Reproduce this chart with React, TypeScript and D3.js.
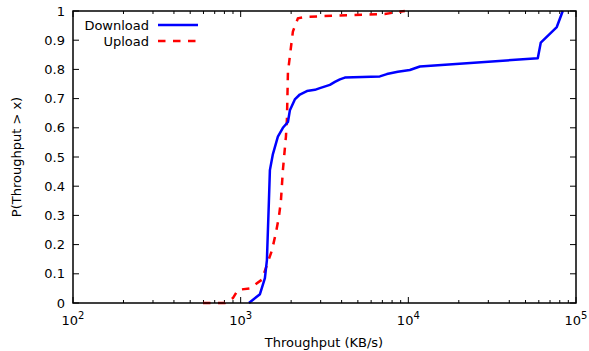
import React from "react";
import * as d3 from "d3";

// throughput (KB/s) vs P(Throughput > x)
const downloadX = [1120, 1303, 1395, 1434, 1474, 1494, 1557, 1667, 1786, 1914, 1966, 2104, 2254, 2483, 2772, 2966, 3404, 3648, 3908, 4181, 6761, 7446, 8653, 10210, 11720, 59160, 61660, 76800, 83380];
const downloadP = [0, 0.03, 0.085, 0.147, 0.35, 0.455, 0.51, 0.57, 0.6, 0.62, 0.66, 0.697, 0.714, 0.726, 0.73, 0.736, 0.747, 0.757, 0.766, 0.772, 0.776, 0.784, 0.792, 0.798, 0.81, 0.838, 0.892, 0.945, 1];

const uploadX = [596, 806, 899, 963, 1136, 1339, 1433, 1536, 1622, 1691, 1738, 1786, 1862, 1888, 1914, 1994, 2049, 2195, 2415, 7244, 9530];
const uploadP = [0, 0, 0.017, 0.045, 0.05, 0.08, 0.13, 0.18, 0.24, 0.295, 0.35, 0.455, 0.57, 0.63, 0.79, 0.875, 0.93, 0.975, 0.98, 0.99, 1];

const yTicks = [0, 0.1, 0.2, 0.3, 0.4, 0.5, 0.6, 0.7, 0.8, 0.9, 1];
const yTickLabels = ["0", "0.1", "0.2", "0.3", "0.4", "0.5", "0.6", "0.7", "0.8", "0.9", "1"];
const xDecades = [2, 3, 4, 5];

const W = 589;
const H = 351;
const left = 73, right = 576, top = 11, bottom = 303;
const font = "DejaVu Sans, sans-serif";
const fs = 13;

export default function App() {
  const x = d3.scaleLog().domain([100, 100000]).range([left, right]);
  const y = d3.scaleLinear().domain([0, 1]).range([bottom, top]);

  const line = d3
    .line<[number, number]>()
    .x((d) => x(d[0]))
    .y((d) => y(d[1]));

  const down = downloadX.map((v, i) => [v, downloadP[i]] as [number, number]);
  const up = uploadX.map((v, i) => [v, uploadP[i]] as [number, number]);

  // minor ticks 2..9 in each decade
  const minor: number[] = [];
  for (let e = 2; e < 5; e++) {
    for (let m = 2; m <= 9; m++) minor.push(m * Math.pow(10, e));
  }

  return (
    <div style={{ position: "absolute", left: 0, top: 0 }}>
      <svg width={W} height={H} style={{ display: "block", background: "#fff" }} fontFamily={font}>
        <defs>
          <clipPath id="plot">
            <rect x={left} y={top - 2} width={right - left} height={bottom - top + 4} />
          </clipPath>
        </defs>

        {/* y ticks, left and right */}
        {yTicks.map((t, i) => (
          <g key={"y" + i}>
            <line x1={left} x2={left + 6} y1={y(t)} y2={y(t)} stroke="#000" strokeWidth={1} />
            <line x1={right} x2={right - 6} y1={y(t)} y2={y(t)} stroke="#000" strokeWidth={1} />
            <text x={65} y={y(t)} dy="0.35em" textAnchor="end" fontSize={fs} fill="#000">
              {yTickLabels[i]}
            </text>
          </g>
        ))}

        {/* x ticks, bottom and top */}
        {xDecades.map((e) => {
          const px = x(Math.pow(10, e));
          return (
            <g key={"x" + e}>
              <line x1={px} x2={px} y1={bottom} y2={bottom - 6} stroke="#000" strokeWidth={1} />
              <line x1={px} x2={px} y1={top} y2={top + 6} stroke="#000" strokeWidth={1} />
              <text x={px} y={325} textAnchor="middle" fontSize={fs} fill="#000">
                10<tspan fontSize={10} dy={-6}>{e}</tspan>
              </text>
            </g>
          );
        })}
        {minor.map((v, i) => (
          <g key={"m" + i}>
            <line x1={x(v)} x2={x(v)} y1={bottom} y2={bottom - 3} stroke="#000" strokeWidth={1} />
            <line x1={x(v)} x2={x(v)} y1={top} y2={top + 3} stroke="#000" strokeWidth={1} />
          </g>
        ))}

        {/* curves */}
        <g clipPath="url(#plot)">
          <path d={line(up) || ""} fill="none" stroke="#ff0000" strokeWidth={2.5} strokeDasharray="7.5,7.5" />
          <path d={line(down) || ""} fill="none" stroke="#0000ff" strokeWidth={2.5} strokeLinejoin="round" />
        </g>

        {/* frame */}
        <rect x={left} y={top} width={right - left} height={bottom - top} fill="none" stroke="#000" strokeWidth={1.5} />

        {/* legend */}
        <text x={149} y={25} dy="0.35em" textAnchor="end" fontSize={fs} fill="#000">Download</text>
        <line x1={158} x2={198} y1={25} y2={25} stroke="#0000ff" strokeWidth={2.5} />
        <text x={149} y={41} dy="0.35em" textAnchor="end" fontSize={fs} fill="#000">Upload</text>
        <line x1={158} x2={198} y1={41} y2={41} stroke="#ff0000" strokeWidth={2.5} strokeDasharray="7.5,7.5" />

        {/* axis titles */}
        <text x={324} y={347} textAnchor="middle" fontSize={fs} fill="#000">Throughput (KB/s)</text>
        <text transform={`translate(21,${(top + bottom) / 2}) rotate(-90)`} textAnchor="middle" fontSize={fs} fill="#000">
          P(Throughput &gt; x)
        </text>
      </svg>
    </div>
  );
}
